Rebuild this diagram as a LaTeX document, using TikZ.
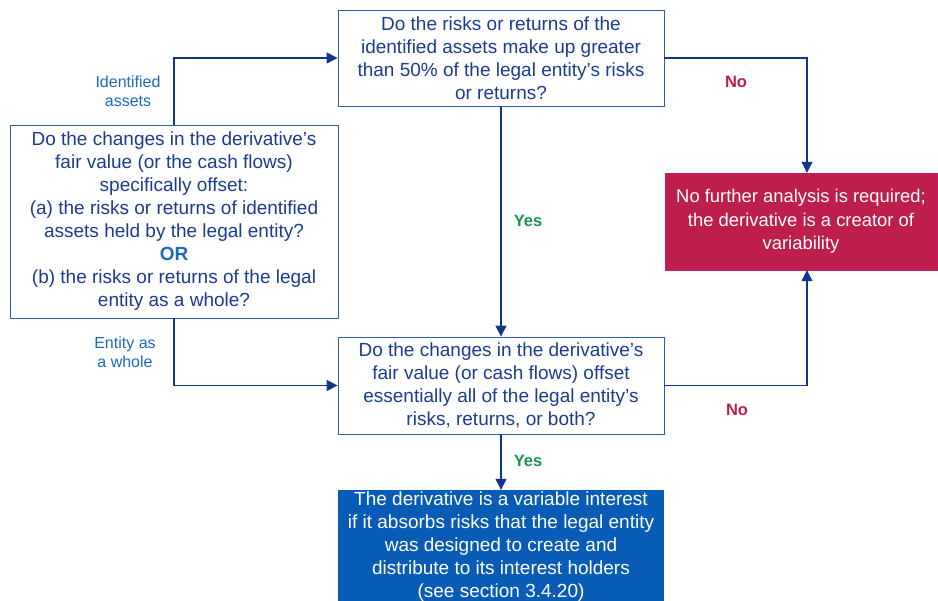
\documentclass[tikz,border=0pt]{standalone}
\usepackage{fontspec}
\setmainfont{Liberation Sans}
\usetikzlibrary{arrows.meta}

\definecolor{qtext}{RGB}{27,60,145}
\definecolor{qline}{RGB}{47,93,166}
\definecolor{qarrow}{RGB}{16,55,140}
\definecolor{qlabel}{RGB}{30,105,190}
\definecolor{qno}{RGB}{190,30,75}
\definecolor{qyes}{RGB}{25,150,75}
\definecolor{qblue}{RGB}{8,92,182}

\begin{document}
\begin{tikzpicture}[x=1pt, y=-1pt,
		question/.style={draw=qline, line width=0.8pt, fill=white, text=qtext, align=center, inner sep=0pt, font=\fontsize{19}{23}\selectfont},
		result/.style={text=white, align=center, inner sep=0pt, font=\fontsize{19}{23}\selectfont},
		arr/.style={draw=qarrow, line width=1.1pt, -{Triangle[width=11pt,length=11pt]}},
		branch/.style={text=qlabel, align=center, font=\fontsize{16}{19}\selectfont},
		nolabel/.style={text=qno, font=\fontsize{16.5}{19}\selectfont\bfseries},
		yeslabel/.style={text=qyes, font=\fontsize{16.5}{19}\selectfont\bfseries}]
		\useasboundingbox (0, 0) rectangle (938, 601);
		\clip (0, 0) rectangle (938, 601);
		% Boxes:
		\node[question, minimum width=326pt, minimum height=96pt] (share) at (501, 58){Do the risks or returns of the\\identified assets make up greater\\than 50\% of the legal entity’s risks\\or returns?};
		\node[question, minimum width=328pt, minimum height=193pt] (offset) at (174, 221.5){Do the changes in the derivative’s\\fair value (or the cash flows)\\specifically offset:\\(a) the risks or returns of identified\\assets held by the legal entity?\\{\color{qlabel}\bfseries OR}\\(b) the risks or returns of the legal\\entity as a whole?};
		\node[question, minimum width=326pt, minimum height=97pt] (whole) at (501, 385.5){Do the changes in the derivative’s\\fair value (or cash flows) offset\\essentially all of the legal entity’s\\risks, returns, or both?};
		\node[result, fill=qno, draw=qno!80!magenta, minimum width=272pt, minimum height=97pt, font=\fontsize{18.4}{23.5}\selectfont] (creator) at (801, 221.5){No further analysis is required;\\the derivative is a creator of\\variability};
		\node[result, fill=qblue, minimum width=326pt, minimum height=114pt] (variable) at (501, 547){The derivative is a variable interest\\if it absorbs risks that the legal entity\\was designed to create and\\distribute to its interest holders\\(see section 3.4.20)};
		% Connectors:
		\draw[arr] (offset.north) |- (share.west);
		\draw[arr] (offset.south) |- (whole.west);
		\draw[arr] (share.east) -| ([xshift=6pt]creator.north);
		\draw[arr] (whole.east) -| ([xshift=6pt]creator.south);
		\draw[arr] (share.south) -- (whole.north);
		\draw[arr] (whole.south) -- (variable.north);
		% Labels:
		\node[branch] (lblassets) at (128, 91){Identified\\assets};
		\node[branch] (lblentity) at (125, 352){Entity as\\a whole};
		\node[nolabel] (lblnotop) at (736, 82){No};
		\node[nolabel] (lblnobot) at (737, 410){No};
		\node[yeslabel] (lblyestop) at (528, 221){Yes};
		\node[yeslabel] (lblyesbot) at (528, 461){Yes};
	\end{tikzpicture}
\end{document}
